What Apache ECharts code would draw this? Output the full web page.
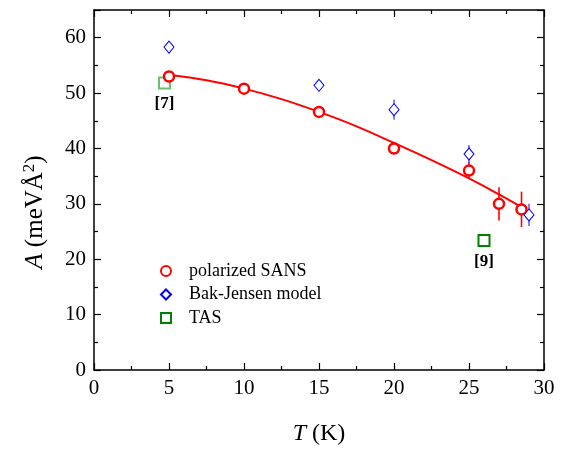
<!DOCTYPE html>
<html><head><meta charset="utf-8">
<script src="https://cdn.jsdelivr.net/npm/echarts@6/dist/echarts.min.js"></script>
<style>html,body{margin:0;padding:0;background:#fff}#c{width:564px;height:451px}</style>
</head><body><div id="c"></div>
<script>
// Polarized SANS
const sansT = [5, 10, 15, 20, 25, 27, 28.5];
const sansA = [53.0, 50.8, 46.6, 40.0, 36.0, 30.0, 29.0];
const sansErr = [0.9, 0.9, 0.9, 0.9, 1.5, 3.0, 3.2];
// Bak-Jensen model
const bjT = [5, 15, 20, 25, 29];
const bjA = [58.3, 51.4, 47.0, 39.0, 28.0];
const bjErr = [0, 0, 1.8, 1.6, 2.0];
// TAS
const tasT = [4.7, 26];
const tasA = [51.8, 23.4];
const tasRef = ['[7]', '[9]'];
// fit curve
const fitT = [5, 7.5, 10, 12.5, 15, 17.5, 20, 22.5, 25, 27, 28.5];
const fitA = [53.3, 52.3, 50.8, 48.9, 46.6, 44.0, 41.0, 37.9, 34.6, 31.7, 29.4];
// axes
const xTickLabels = [0, 5, 10, 15, 20, 25, 30];
const yTickLabels = [0, 10, 20, 30, 40, 50, 60];

const FONT = 'Liberation Serif';
const chart = echarts.init(document.getElementById('c'));

function errRender(color, w) {
  return function (params, api) {
    const x = api.value(0), lo = api.value(1), hi = api.value(2);
    const a = api.coord([x, lo]), b = api.coord([x, hi]);
    return { type: 'line', shape: { x1: a[0], y1: a[1], x2: b[0], y2: b[1] },
      style: { stroke: color, lineWidth: w } };
  };
}

const axisCommon = {
  type: 'value',
  splitLine: { show: false },
  axisLine: { show: true, onZero: false, lineStyle: { color: '#000', width: 1.5 } },
  axisTick: { show: true, inside: true, length: 7, lineStyle: { color: '#000', width: 1.2 } },
  minorTick: { show: true, splitNumber: 2, length: 4, lineStyle: { color: '#000', width: 1.2 } },
  minorSplitLine: { show: false }
};

const xMin = xTickLabels[0], xMax = xTickLabels[xTickLabels.length - 1];
const yMin = yTickLabels[0], yMax = 65;

const option = {
  animation: false,
  backgroundColor: '#fff',
  grid: { left: 94, right: 20, top: 10, bottom: 79 },
  xAxis: [
    Object.assign({}, axisCommon, {
      position: 'bottom', min: xMin, max: xMax, interval: 5,
      axisLabel: { show: true, color: '#000', fontFamily: FONT, fontSize: 21, margin: 8,
        formatter: v => xTickLabels.includes(v) ? String(v) : '' },
      name: '{i|T} (K)', nameLocation: 'middle', nameGap: 52,
      nameTextStyle: { color: '#000', fontFamily: FONT, fontSize: 24,
        rich: { i: { fontStyle: 'italic', fontFamily: FONT, fontSize: 24, color: '#000' } } }
    }),
    Object.assign({}, axisCommon, {
      position: 'top', min: xMin, max: xMax, interval: 5, axisLabel: { show: false }
    })
  ],
  yAxis: [
    Object.assign({}, axisCommon, {
      position: 'left', min: yMin, max: yMax, interval: 10,
      axisLabel: { show: true, color: '#000', fontFamily: FONT, fontSize: 21, margin: 8,
        showMaxLabel: false,
        formatter: v => yTickLabels.includes(v) ? String(v) : '' },
      name: '{i|A} (meVÅ{s|2})', nameLocation: 'middle', nameGap: 44,
      nameTextStyle: { color: '#000', fontFamily: FONT, fontSize: 25, padding: [0, 44, 0, 0],
        rich: { i: { fontStyle: 'italic', fontFamily: FONT, fontSize: 25, color: '#000' },
                s: { fontFamily: FONT, fontSize: 17, color: '#000', padding: [0, 0, 12, 0] } } }
    }),
    Object.assign({}, axisCommon, {
      position: 'right', min: yMin, max: yMax, interval: 10, axisLabel: { show: false }
    })
  ],
  legend: {
    orient: 'vertical', left: 155, top: 257, itemWidth: 10, itemHeight: 10, itemGap: 5.5,
    textStyle: { color: '#000', fontFamily: FONT, fontSize: 18, lineHeight: 18, padding: [0, 0, 0, 13] },
    data: ['polarized SANS', 'Bak-Jensen model', 'TAS']
  },
  series: [
    { type: 'line', name: 'fit', data: fitT.map((t, i) => [t, fitA[i]]), smooth: 0.4,
      showSymbol: false, symbol: 'none', lineStyle: { color: '#ff0000', width: 2 }, z: 2 },
    { type: 'custom', name: 'sansErr', renderItem: errRender('#ff0000', 1.6),
      data: sansT.map((t, i) => [t, sansA[i] - sansErr[i], sansA[i] + sansErr[i]]),
      encode: { x: 0, y: [1, 2] }, z: 3 },
    { type: 'custom', name: 'bjErr', renderItem: errRender('#0000ff', 1),
      data: bjT.map((t, i) => [t, bjA[i] - bjErr[i], bjA[i] + bjErr[i]]).filter((d, i) => bjErr[i] > 0),
      encode: { x: 0, y: [1, 2] }, z: 3 },
    { type: 'scatter', name: 'polarized SANS', data: sansT.map((t, i) => [t, sansA[i]]),
      symbol: 'circle', symbolSize: 10,
      itemStyle: { color: '#fff', borderColor: '#ff0000', borderWidth: 2.5, opacity: 1 }, z: 5 },
    { type: 'scatter', name: 'Bak-Jensen model', data: bjT.map((t, i) => [t, bjA[i]]),
      symbol: 'diamond', symbolSize: [10, 12],
      itemStyle: { color: '#fff', borderColor: '#0000ff', borderWidth: 1, opacity: 1 }, z: 5 },
    { type: 'scatter', name: 'TAS', data: tasT.map((t, i) => ({ value: [t, tasA[i]],
        itemStyle: i === 0 ? { borderColor: '#6cbf6c' } : {},
        label: { show: true, formatter: tasRef[i], position: 'bottom', distance: 6,
          color: '#000', fontFamily: FONT, fontSize: 17, fontWeight: 'bold' } })),
      symbol: 'rect', symbolSize: 11,
      itemStyle: { color: 'rgba(255,255,255,0)', borderColor: '#008000', borderWidth: 2, opacity: 1 }, z: 4 }
  ]
};
chart.setOption(option);
</script></body></html>
